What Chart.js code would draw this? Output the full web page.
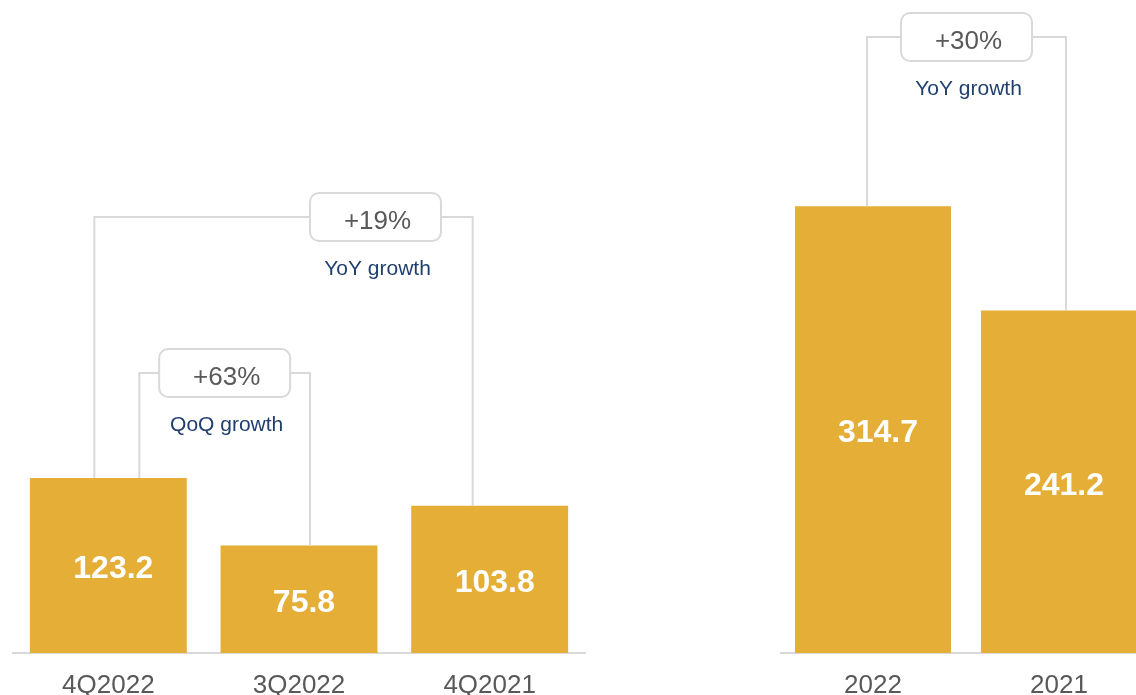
<!DOCTYPE html>
<html>
<head>
<meta charset="utf-8">
<script src="https://cdn.jsdelivr.net/npm/chart.js@4.4.1/dist/chart.umd.min.js"></script>
<style>
  html, body { margin: 0; padding: 0; background: #fff; width: 1136px; height: 695px; overflow: hidden; }
  .panel { position: absolute; top: 0; height: 695px; }
  #quarterly { left: 0; width: 600px; }
  #annual { left: 780px; width: 372px; }
</style>
</head>
<body>
<div class="panel" id="quarterly"><canvas id="qChart"></canvas></div>
<div class="panel" id="annual"><canvas id="yChart"></canvas></div>
<script>
// Quarterly figures
const quarterLabels = ['4Q2022', '3Q2022', '4Q2021'];
const quarterValues = [123.2, 75.8, 103.8];
const quarterQoQ = '+63%';
const quarterYoY = '+19%';

// Full-year figures
const yearLabels = ['2022', '2021'];
const yearValues = [314.7, 241.2];
const yearYoY = '+30%';

const FONT = "'Liberation Sans', Arial, Helvetica, sans-serif";
const BAR = '#E4AE37';
const LINE = '#D9D9D9';
const GREY_TEXT = '#595959';
const NAVY = '#1F3F6E';

// White value label in the middle of each bar
const barValueLabels = {
  id: 'barValueLabels',
  afterDatasetsDraw(chart) {
    const ctx = chart.ctx;
    const meta = chart.getDatasetMeta(0);
    const data = chart.data.datasets[0].data;
    ctx.save();
    ctx.font = 'bold 32px ' + FONT;
    ctx.fillStyle = '#FFFFFF';
    ctx.textAlign = 'center';
    ctx.textBaseline = 'middle';
    meta.data.forEach((bar, i) => {
      const p = bar.getProps(['x', 'y', 'base'], true);
      ctx.fillText(data[i].toFixed(1), p.x + 5, (p.y + p.base) / 2 + 4);
    });
    ctx.restore();
  }
};

// Bracket connecting two bars with a rounded growth badge and caption
const growthBrackets = {
  id: 'growthBrackets',
  afterDatasetsDraw(chart, args, opts) {
    const ctx = chart.ctx;
    const meta = chart.getDatasetMeta(0);
    (opts.items || []).forEach(item => {
      const a = meta.data[item.from].getProps(['x', 'y'], true);
      const b = meta.data[item.to].getProps(['x', 'y'], true);
      const x1 = a.x + item.fromShift;
      const x2 = b.x + item.toShift;
      const y = item.y;
      ctx.save();
      ctx.strokeStyle = LINE;
      ctx.lineWidth = 2;
      ctx.beginPath();
      ctx.moveTo(x1, a.y);
      ctx.lineTo(x1, y);
      ctx.lineTo(x2, y);
      ctx.lineTo(x2, b.y);
      ctx.stroke();

      const bw = 131, bh = 48, r = 9;
      const cx = (x1 + x2) / 2 + (item.boxShift || 0);
      const bx = cx - bw / 2, by = y - bh / 2;
      ctx.beginPath();
      ctx.roundRect(bx, by, bw, bh, r);
      ctx.fillStyle = '#FFFFFF';
      ctx.fill();
      ctx.stroke();

      ctx.textAlign = 'center';
      ctx.textBaseline = 'middle';
      ctx.fillStyle = GREY_TEXT;
      ctx.font = '26px ' + FONT;
      ctx.fillText(item.label, cx + 2, y + 5);
      ctx.fillStyle = NAVY;
      ctx.font = '21px ' + FONT;
      ctx.fillText(item.caption, cx + 2, by + bh + 28);
      ctx.restore();
    });
  }
};

function makeChart(id, labels, values, barPct, padding, brackets) {
  return new Chart(document.getElementById(id), {
    type: 'bar',
    data: {
      labels: labels,
      datasets: [{
        data: values,
        backgroundColor: BAR,
        borderWidth: 0,
        barPercentage: barPct,
        categoryPercentage: 1
      }]
    },
    options: {
      responsive: true,
      maintainAspectRatio: false,
      animation: false,
      events: [],
      layout: { padding: padding },
      plugins: {
        legend: { display: false },
        tooltip: { enabled: false },
        growthBrackets: { items: brackets }
      },
      scales: {
        x: {
          grid: { display: false, drawTicks: false },
          border: { display: true, color: LINE, width: 2 },
          ticks: { color: GREY_TEXT, font: { family: FONT, size: 26 }, padding: 17, maxRotation: 0 },
          afterFit(scale) { scale.height = 42; }
        },
        y: {
          display: false,
          min: 0,
          max: 460
        }
      }
    },
    plugins: [growthBrackets, barValueLabels]
  });
}

makeChart('qChart', quarterLabels, quarterValues, 0.823,
  { left: 13, right: 15, top: 0, bottom: 0 },
  [
    { from: 0, to: 2, fromShift: -14, toShift: -17, y: 217, boxShift: 92, label: quarterYoY, caption: 'YoY growth' },
    { from: 0, to: 1, fromShift: 31, toShift: 11, y: 373, label: quarterQoQ, caption: 'QoQ growth' }
  ]);

makeChart('yChart', yearLabels, yearValues, 0.839,
  { left: 0, right: 0, top: 0, bottom: 0 },
  [
    { from: 0, to: 1, fromShift: -6, toShift: 7, y: 37, label: yearYoY, caption: 'YoY growth' }
  ]);
</script>
</body>
</html>
